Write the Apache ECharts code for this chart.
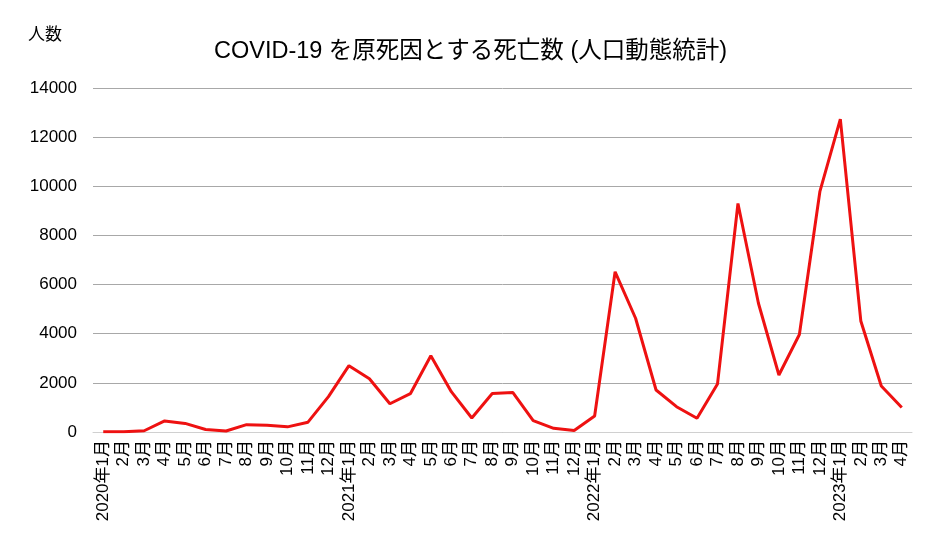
<!DOCTYPE html>
<html>
<head>
<meta charset="utf-8">
<script src="https://cdn.jsdelivr.net/npm/echarts@6/dist/echarts.min.js"></script>
<style>
  html, body { margin: 0; padding: 0; background: #ffffff; }
  #chart { width: 941px; height: 558px; }
</style>
</head>
<body>
<div id="chart"></div>
<script>
// months 2020年1月 .. 2023年4月
const months = [
  '2020年1月', '2月', '3月', '4月', '5月', '6月', '7月', '8月', '9月', '10月', '11月', '12月',
  '2021年1月', '2月', '3月', '4月', '5月', '6月', '7月', '8月', '9月', '10月', '11月', '12月',
  '2022年1月', '2月', '3月', '4月', '5月', '6月', '7月', '8月', '9月', '10月', '11月', '12月',
  '2023年1月', '2月', '3月', '4月'
];

const deaths = [
  10, 15, 50, 450, 350, 100, 40, 300, 270, 210, 400, 1440,
  2700, 2170, 1150, 1560, 3100, 1640, 570, 1570, 1610, 460, 150, 60,
  650, 6520, 4630, 1710, 1030, 560, 1950, 9300, 5240, 2320, 3970, 9780,
  12730, 4520, 1870, 1000
];

const yTicks = { min: 0, max: 14000, interval: 2000 };

const font = 'Helvetica, Arial, "Liberation Sans", "Noto Sans CJK JP", sans-serif';

const chart = echarts.init(document.getElementById('chart'));

var option = {
  backgroundColor: '#ffffff',
  animation: false,
  title: {
    text: 'COVID-19 を原死因とする死亡数 (人口動態統計)',
    left: 'center',
    top: 35,
    textStyle: {
      fontFamily: font,
      fontSize: 23.5,
      fontWeight: 'normal',
      color: '#000000'
    }
  },
  graphic: [{
    type: 'text',
    left: 28,
    top: 27,
    style: {
      text: '人数',
      fontFamily: font,
      fontSize: 17,
      fill: '#000000'
    }
  }],
  grid: {
    left: 93,
    right: 29,
    top: 88,
    bottom: 126,
    containLabel: false
  },
  xAxis: {
    type: 'category',
    data: months,
    boundaryGap: true,
    axisLine: { show: true, lineStyle: { color: '#d0d0d0', width: 1 } },
    axisTick: { show: false },
    axisLabel: {
      interval: 0,
      rotate: 90,
      margin: 8,
      fontFamily: font,
      fontSize: 17,
      color: '#000000'
    }
  },
  yAxis: {
    type: 'value',
    min: yTicks.min,
    max: yTicks.max,
    interval: yTicks.interval,
    axisLine: { show: false },
    axisTick: { show: false },
    axisLabel: {
      margin: 16,
      fontFamily: font,
      fontSize: 17,
      color: '#000000',
      formatter: function (v) { return String(v); }
    },
    splitLine: { lineStyle: { color: '#a8a8a8', width: 1 } }
  },
  series: [{
    type: 'line',
    data: deaths,
    symbol: 'none',
    lineStyle: { color: '#ee1111', width: 3 },
    itemStyle: { color: '#ee1111' }
  }]
};

chart.setOption(option);
</script>
</body>
</html>
